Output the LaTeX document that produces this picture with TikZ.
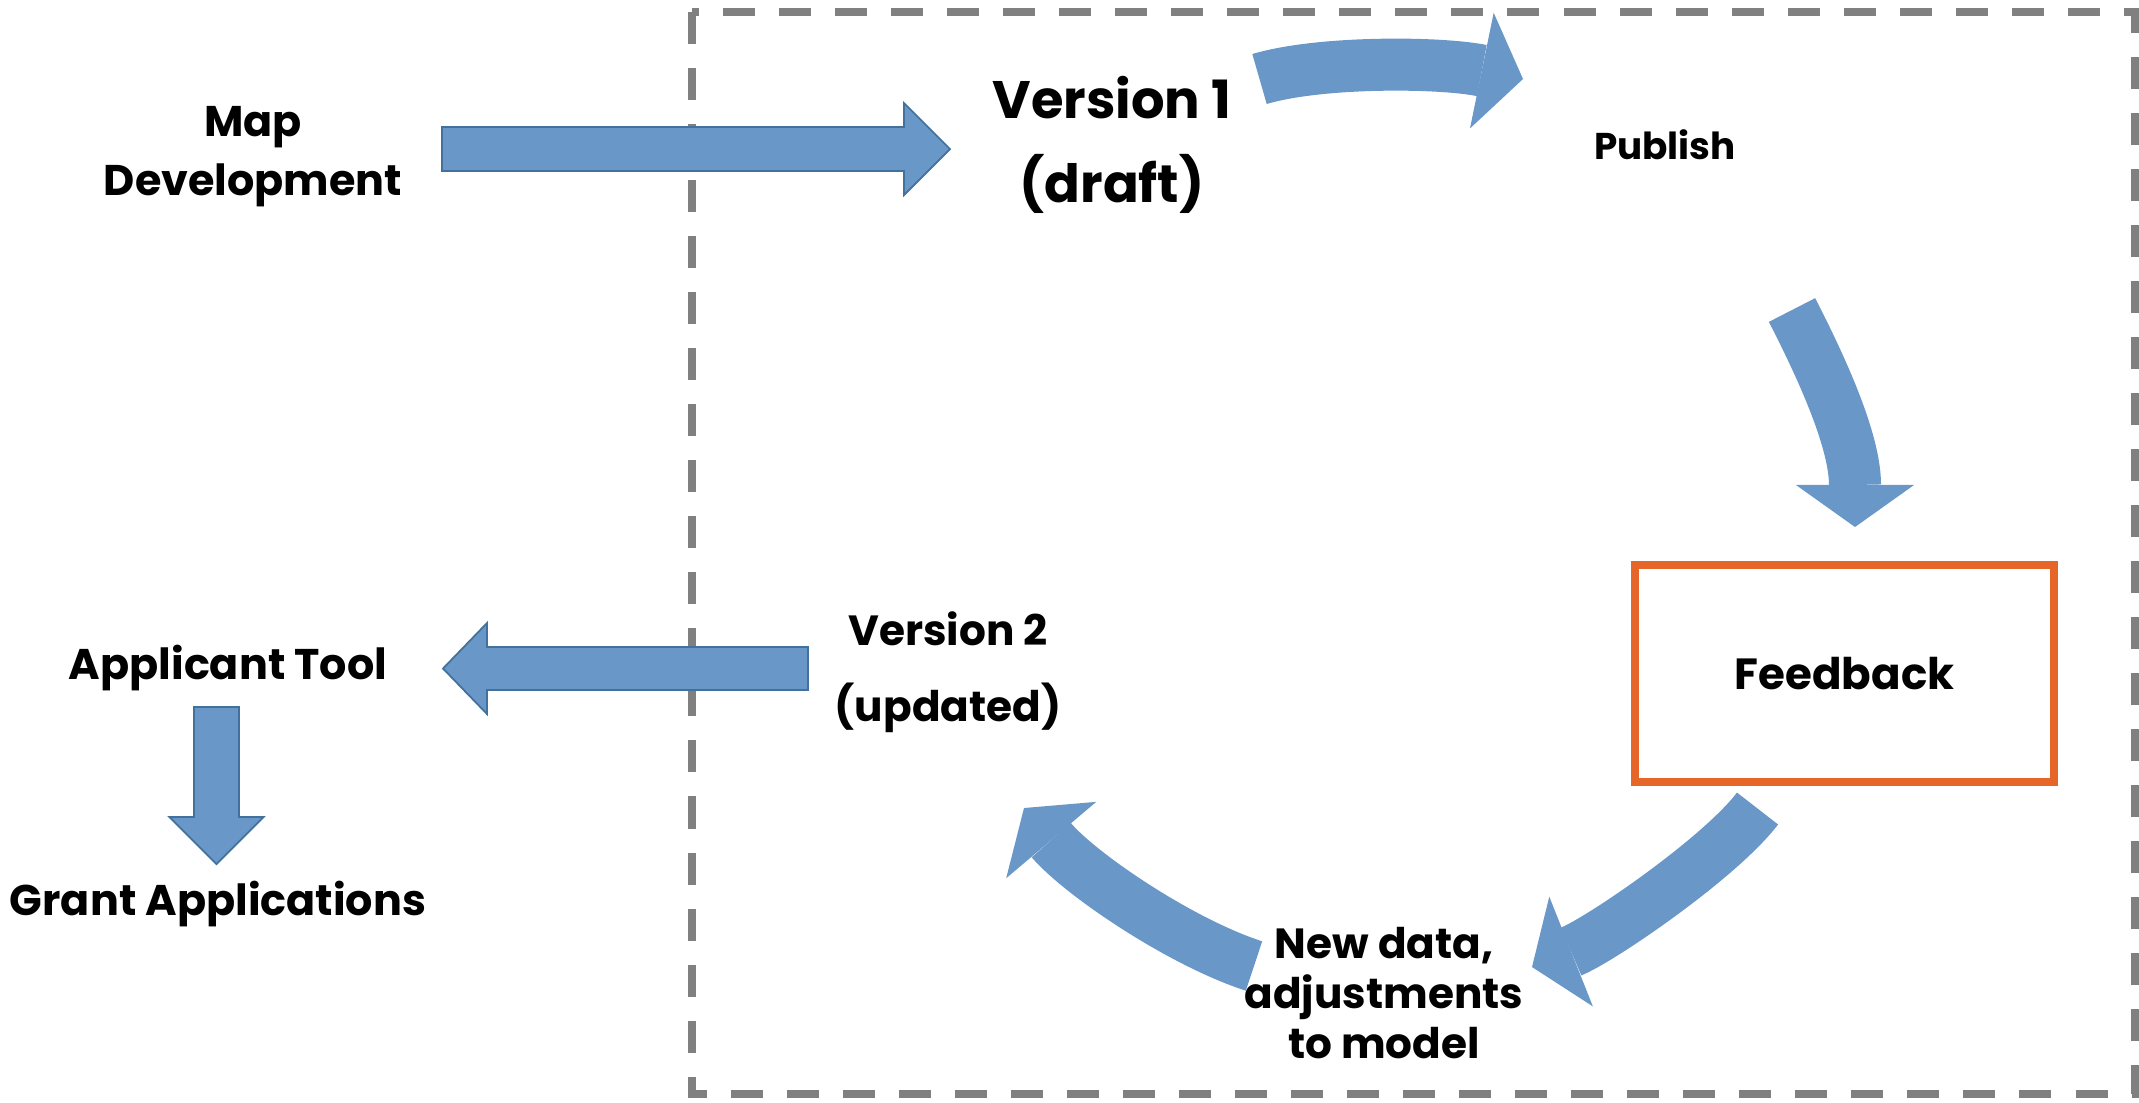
\documentclass[tikz,border=0pt]{standalone}
\usepackage{fontspec}
\setmainfont{Poppins}
\usepackage{tikz}
\usetikzlibrary{arrows.meta}

\definecolor{arrowblue}{RGB}{104,151,200}
\definecolor{arrowedge}{RGB}{65,113,156}
\definecolor{fbkorange}{RGB}{230,101,41}
\definecolor{framegray}{RGB}{128,128,128}

\begin{document}
\begin{tikzpicture}[x=0.01cm, y=-0.01cm,
    txt/.style={align=center, inner sep=0pt},
    blockarrow/.style={fill=arrowblue, draw=arrowedge, line width=0.5pt, line join=miter},
    bentarrow/.style={draw=arrowblue, line width=0.52cm,
      -{Triangle[length=0.42cm, width=1.18cm, line width=0pt]}},
  ]
  \useasboundingbox (0,0) rectangle (2139,1102);

  % dashed frame round the update loop
  \draw[framegray, line width=0.08cm, dash pattern=on 0.32cm off 0.24cm] (692,12) rectangle (2135,1094);

  % labels
  \node[txt, font=\bfseries\fontsize{12.2}{16.8}\selectfont] (mapdev) at (253,157) {Map\\Development};
  \node[txt, font=\bfseries\fontsize{15}{24}\selectfont] (version1) at (1112,145) {Version 1\\(draft)};
  \node[txt, font=\bfseries\fontsize{10.6}{13}\selectfont] (publish) at (1665,145) {Publish};
  \node[txt, draw=fbkorange, line width=0.075cm, minimum width=4.19cm, minimum height=2.17cm,
        font=\bfseries\fontsize{12.4}{14}\selectfont] (feedback) at (1844.5,673.5) {Feedback};
  \node[txt, font=\bfseries\fontsize{12}{14.2}\selectfont] (newdata) at (1384,993) {New data,\\adjustments\\to model};
  \node[txt, font=\bfseries\fontsize{12}{21.6}\selectfont] (version2) at (948,672) {Version 2\\(updated)};
  \node[txt, font=\bfseries\fontsize{12.2}{14}\selectfont] (applicant) at (228,668) {Applicant Tool};
  \node[txt, font=\bfseries\fontsize{12.2}{14}\selectfont] (grant) at (218,904) {Grant Applications};

  % ends of the arrows
  \coordinate (mapdev out) at (442,149);
  \coordinate (version2 out) at (808,668.5);
  \coordinate (applicant out) at (216.5,707);
  \coordinate (version1 out) at (1259.5,79);
  \coordinate (publish in) at (1523,79);
  \coordinate (publish out) at (1792,310);
  \coordinate (feedback in) at (1855,527);
  \coordinate (feedback out) at (1757.5,808.5);
  \coordinate (newdata in) at (1532,967);
  \coordinate (newdata out) at (1254,966);
  \coordinate (version2 in) at (1024,808);

  % straight block arrows
  \draw[blockarrow] (mapdev out) ++(0,-22) -- ++(462,0) -- ++(0,-24) -- ++(46,46)
    -- ++(-46,46) -- ++(0,-24) -- ++(-462,0) -- cycle;
  \draw[blockarrow] (version2 out) ++(0,-21.5) -- ++(-321,0) -- ++(0,-24) -- ++(-44,45.5)
    -- ++(44,45.5) -- ++(0,-24) -- ++(321,0) -- cycle;
  \draw[blockarrow] (applicant out) ++(-22.5,0) -- ++(0,110) -- ++(-24.5,0) -- ++(47,47)
    -- ++(47,-47) -- ++(-24.5,0) -- ++(0,-110) -- cycle;

  % the loop
  \draw[bentarrow] (version1 out) .. controls (1320,61) and (1440,62) .. (publish in);
  \draw[bentarrow] (publish out) .. controls (1828,380) and (1855,445) .. (feedback in);
  \draw[bentarrow] (feedback out) .. controls (1720,858) and (1600,940) .. (newdata in);
  \draw[bentarrow] (newdata out) .. controls (1180,942) and (1080,874) .. (version2 in);
\end{tikzpicture}
\end{document}
